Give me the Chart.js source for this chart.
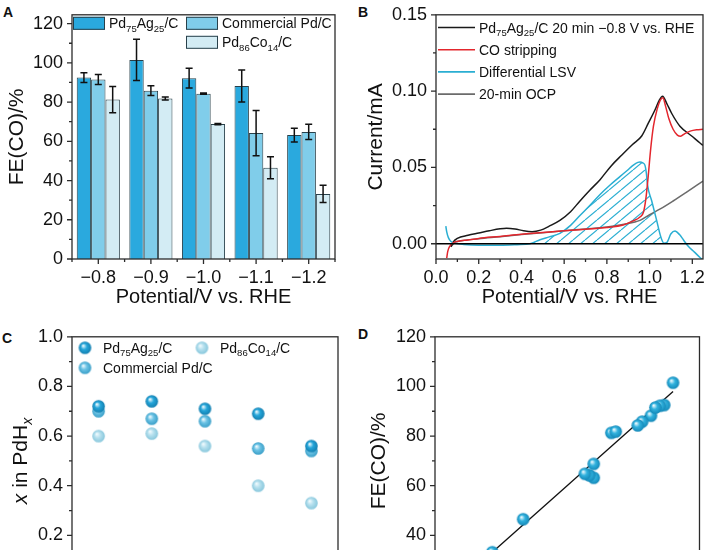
<!DOCTYPE html>
<html>
<head>
<meta charset="utf-8">
<script src="https://cdn.jsdelivr.net/npm/chart.js@4.4.1/dist/chart.umd.min.js"></script>
<style>
  html, body { margin: 0; padding: 0; background: #fff; }
  body { width: 715px; height: 550px; overflow: hidden; position: relative; font-family: "Liberation Sans", Arial, sans-serif; }
  canvas { position: absolute; }
  .tag { position: absolute; font-weight: bold; font-size: 14px; line-height: 1; color: #111; }
</style>
</head>
<body>
<div class="tag" style="left:3px;top:5px">A</div>
<div class="tag" style="left:358px;top:5px">B</div>
<div class="tag" style="left:2px;top:331px">C</div>
<div class="tag" style="left:358px;top:327px">D</div>
<canvas id="chartC" style="left:0;top:322px" width="357" height="316"></canvas>
<canvas id="chartD" style="left:357px;top:322px" width="358" height="316"></canvas>
<canvas id="chartA" style="left:0;top:0" width="357" height="312"></canvas>
<canvas id="chartB" style="left:357px;top:0" width="358" height="312"></canvas>
<script>
const FONT = '"Liberation Sans", Arial, sans-serif';
Chart.defaults.font.family = FONT;
Chart.defaults.color = '#111';

// categories
const potentials = ['−0.8', '−0.9', '−1.0', '−1.1', '−1.2'];
const seriesNames = ['Pd_{75}Ag_{25}/C', 'Commercial Pd/C', 'Pd_{86}Co_{14}/C'];

// A: FE(CO) in %, with error
const fePdAg = [92.5, 101.5, 92.2, 88.2, 63.2];
const feComm = [91.5, 85.8, 84.3, 64.2, 64.8];
const fePdCo = [81.3, 81.8, 68.8, 46.5, 33.2];
const errPdAg = [2.5, 10.5, 5.0, 8.1, 3.5];
const errComm = [2.5, 2.5, 0.3, 11.5, 3.9];
const errPdCo = [6.7, 0.8, 0.3, 5.6, 4.4];

// B: stripping curves (potential, current)
const blackX = [0.07, 0.08, 0.10, 0.15, 0.20, 0.25, 0.30, 0.33, 0.37, 0.41, 0.45, 0.49, 0.53, 0.58, 0.63, 0.674, 0.72, 0.768, 0.82, 0.869, 0.92, 0.963, 0.994, 1.025, 1.045, 1.061, 1.08, 1.103, 1.142, 1.197, 1.236, 1.25];
const blackY = [-0.002, 0.001, 0.0035, 0.0055, 0.007, 0.0085, 0.0098, 0.0102, 0.0097, 0.0085, 0.0079, 0.0089, 0.0115, 0.0153, 0.021, 0.028, 0.035, 0.042, 0.051, 0.058, 0.065, 0.0706, 0.079, 0.0876, 0.094, 0.0966, 0.092, 0.0855, 0.077, 0.0706, 0.066, 0.0645];
const redX = [0.05, 0.055, 0.065, 0.08, 0.10, 0.15, 0.20, 0.30, 0.40, 0.50, 0.60, 0.70, 0.80, 0.88, 0.92, 0.955, 0.972, 0.983, 0.994, 1.005, 1.018, 1.035, 1.05, 1.062, 1.075, 1.09, 1.11, 1.13, 1.145, 1.165, 1.19, 1.22, 1.25];
const redY = [-0.0095, -0.005, -0.0015, 0.0005, 0.0015, 0.0025, 0.0035, 0.0048, 0.0062, 0.0073, 0.0085, 0.0095, 0.0106, 0.0125, 0.0148, 0.0175, 0.021, 0.030, 0.045, 0.062, 0.077, 0.088, 0.094, 0.0957, 0.09, 0.082, 0.075, 0.0712, 0.0705, 0.0722, 0.0738, 0.0747, 0.075];
const cyanX = [0.046, 0.05, 0.058, 0.07, 0.09, 0.13, 0.20, 0.30, 0.38, 0.44, 0.487, 0.53, 0.58, 0.63, 0.674, 0.72, 0.768, 0.815, 0.861, 0.895, 0.924, 0.945, 0.955, 0.968, 0.978, 0.985, 0.99, 1.01, 1.033, 1.052, 1.067, 1.08, 1.10, 1.119, 1.14, 1.158, 1.181, 1.21, 1.236, 1.25];
const cyanY = [0.0115, 0.008, 0.004, 0.0015, 0.0003, -0.0005, -0.001, -0.001, -0.0006, 0.0, 0.0026, 0.0045, 0.0068, 0.012, 0.0185, 0.025, 0.0323, 0.0385, 0.044, 0.048, 0.0515, 0.0533, 0.0536, 0.053, 0.0515, 0.046, 0.0387, 0.028, 0.0153, 0.0047, 0.0004, 0.0008, 0.0065, 0.0083, 0.006, 0.0026, -0.0017, -0.0055, -0.009, -0.0105];
const ocpX = [0.07, 0.09, 0.12, 0.20, 0.30, 0.40, 0.50, 0.60, 0.70, 0.80, 0.88, 0.955, 1.0, 1.05, 1.11, 1.17, 1.25];
const ocpY = [-0.002, 0.001, 0.002, 0.0033, 0.0046, 0.006, 0.0072, 0.0085, 0.0097, 0.011, 0.0128, 0.0153, 0.019, 0.0228, 0.028, 0.0335, 0.041];
const legendB = ['Pd_{75}Ag_{25}/C 20 min −0.8 V vs. RHE', 'CO stripping', 'Differential LSV', '20-min OCP'];

// C: x in PdHx
const xPdAg = [0.72, 0.74, 0.71, 0.69, 0.56];
const xComm = [0.70, 0.67, 0.66, 0.55, 0.54];
const xPdCo = [0.60, 0.61, 0.56, 0.40, 0.33];

// D: linear fit
const fitX = [0.33, 0.74];
const fitY = [33.2, 98.0];

// ticks
const yTicksA = [0, 20, 40, 60, 80, 100, 120];
const yMinorA = [10, 30, 50, 70, 90, 110];
const catMajor = [0, 1, 2, 3, 4];
const catMinor = [-0.5, 0.5, 1.5, 2.5, 3.5, 4.5];
const xTicksB = [0, 0.2, 0.4, 0.6, 0.8, 1.0, 1.2];
const xMinorB = [0.1, 0.3, 0.5, 0.7, 0.9, 1.1];
const yTicksB = [0, 0.05, 0.10, 0.15];
const yMinorB = [0.025, 0.075, 0.125];
const yTicksC = [0, 0.2, 0.4, 0.6, 0.8, 1.0];
const yMinorC = [0.1, 0.3, 0.5, 0.7, 0.9];
const yTicksD = [20, 40, 60, 80, 100, 120];
const yMinorD = [30, 50, 70, 90, 110];
const xTicksD = [0.2, 0.3, 0.4, 0.5, 0.6, 0.7, 0.8];

// text with _{sub} and *italic*
function parseRich(str) {
  const out = [];
  str.split(/(_\{[^}]*\}|\*[^*]*\*)/).forEach(s => {
    if (!s) return;
    if (s.startsWith('_{')) {
      let t = s.slice(2, -1), it = false;
      if (t.startsWith('*')) { t = t.slice(1, -1); it = true; }
      out.push({ t, sub: true, it });
    } else if (s.startsWith('*')) {
      out.push({ t: s.slice(1, -1), sub: false, it: true });
    } else {
      out.push({ t: s, sub: false, it: false });
    }
  });
  return out;
}
function richText(ctx, str, x, y, size, align) {
  const ps = parseRich(str);
  const fontOf = p => (p.it ? 'italic ' : '') + (p.sub ? size * 0.68 : size) + 'px ' + FONT;
  let w = 0;
  ps.forEach(p => { ctx.font = fontOf(p); w += ctx.measureText(p.t).width; });
  let cx = align === 'center' ? x - w / 2 : x;
  ctx.textAlign = 'left';
  ctx.textBaseline = 'alphabetic';
  ps.forEach(p => {
    ctx.font = fontOf(p);
    ctx.fillText(p.t, cx, p.sub ? y + size * 0.24 : y);
    cx += ctx.measureText(p.t).width;
  });
}

function sphere(base, dark, r) {
  const c = document.createElement('canvas');
  const s = Math.ceil(r * 2 + 2);
  c.width = c.height = s;
  const g = c.getContext('2d');
  const m = s / 2;
  const grad = g.createRadialGradient(m - r * 0.3, m - r * 0.35, r * 0.05, m, m, r);
  grad.addColorStop(0, '#f2fbfe');
  grad.addColorStop(0.45, base);
  grad.addColorStop(1, dark);
  g.fillStyle = grad;
  g.beginPath();
  g.arc(m, m, r, 0, Math.PI * 2);
  g.fill();
  return c;
}

function hatch(ctx, color) {
  const c = document.createElement('canvas');
  c.width = 12; c.height = 10;
  const g = c.getContext('2d');
  g.strokeStyle = color;
  g.lineWidth = 1.2;
  for (let k = -1; k <= 1; k++) {
    g.beginPath();
    g.moveTo(k * 12, 10);
    g.lineTo(k * 12 + 12, 0);
    g.stroke();
  }
  return ctx.createPattern(c, 'repeat');
}

// box round the plot, with outward ticks
const framePlugin = {
  id: 'frame',
  afterDatasetsDraw(chart, args, o) {
    const { ctx, chartArea: a, scales } = chart;
    ctx.save();
    if (o.zeroLine) {
      const p = scales.y.getPixelForValue(0);
      ctx.strokeStyle = '#000';
      ctx.lineWidth = 1.6;
      ctx.beginPath(); ctx.moveTo(a.left, p); ctx.lineTo(a.right, p); ctx.stroke();
    }
    ctx.strokeStyle = '#2b2b2b';
    ctx.lineWidth = 1.3;
    ctx.beginPath();
    (o.xMajor || []).forEach(v => { const p = scales.x.getPixelForValue(v); ctx.moveTo(p, a.bottom); ctx.lineTo(p, a.bottom + 5); });
    (o.xMinor || []).forEach(v => { const p = scales.x.getPixelForValue(v); ctx.moveTo(p, a.bottom); ctx.lineTo(p, a.bottom + 3); });
    (o.yMajor || []).forEach(v => { const p = scales.y.getPixelForValue(v); ctx.moveTo(a.left, p); ctx.lineTo(a.left - 5, p); });
    (o.yMinor || []).forEach(v => { const p = scales.y.getPixelForValue(v); ctx.moveTo(a.left, p); ctx.lineTo(a.left - 3, p); });
    ctx.stroke();
    ctx.strokeRect(a.left, a.top, a.right - a.left, a.bottom - a.top);
    ctx.restore();
  }
};

const errorBars = {
  id: 'errorBars',
  afterDatasetsDraw(chart) {
    const { ctx } = chart;
    const ys = chart.scales.y;
    ctx.save();
    ctx.strokeStyle = '#111';
    ctx.lineWidth = 1.5;
    chart.data.datasets.forEach((ds, i) => {
      chart.getDatasetMeta(i).data.forEach((bar, j) => {
        const v = ds.data[j], e = ds.errors[j];
        const t = ys.getPixelForValue(v + e), b = ys.getPixelForValue(v - e);
        ctx.beginPath();
        ctx.moveTo(bar.x, t); ctx.lineTo(bar.x, b);
        ctx.moveTo(bar.x - 3.5, t); ctx.lineTo(bar.x + 3.5, t);
        ctx.moveTo(bar.x - 3.5, b); ctx.lineTo(bar.x + 3.5, b);
        ctx.stroke();
      });
    });
    ctx.restore();
  }
};

const legendA = {
  id: 'legendA',
  afterDraw(chart) {
    const { ctx, chartArea: a } = chart;
    const spots = [[1, 2], [114, 2], [114, 21]];
    ctx.save();
    chart.data.datasets.forEach((ds, i) => {
      const x = a.left + spots[i][0], y = a.top + spots[i][1];
      ctx.fillStyle = ds.backgroundColor;
      ctx.fillRect(x, y, 32, 13);
      ctx.strokeStyle = '#28404a';
      ctx.lineWidth = 1;
      ctx.strokeRect(x + 0.5, y + 0.5, 31, 12);
      ctx.fillStyle = '#111';
      richText(ctx, seriesNames[i], x + 36, y + 6.5 + 5, 14);
    });
    ctx.restore();
  }
};

const legendBPlugin = {
  id: 'legendB',
  afterDraw(chart) {
    const { ctx, chartArea: a } = chart;
    const rows = [12.7, 34.9, 57.1, 79.3];
    const sets = [chart.data.datasets[0], chart.data.datasets[1], chart.data.datasets[2], chart.data.datasets[3]];
    ctx.save();
    sets.forEach((ds, i) => {
      const y = a.top + rows[i];
      ctx.strokeStyle = ds.borderColor;
      ctx.lineWidth = 1.6;
      ctx.beginPath(); ctx.moveTo(a.left + 2, y); ctx.lineTo(a.left + 39, y); ctx.stroke();
      ctx.fillStyle = '#111';
      richText(ctx, legendB[i], a.left + 43, y + 5, 14);
    });
    ctx.restore();
  }
};

const legendC = {
  id: 'legendC',
  afterDraw(chart) {
    const { ctx, chartArea: a } = chart;
    const spots = [[13, 11], [13, 31], [130, 11]];
    ctx.save();
    chart.data.datasets.forEach((ds, i) => {
      const x = a.left + spots[i][0], y = a.top + spots[i][1];
      const img = ds.pointStyle;
      ctx.drawImage(img, x - img.width / 2, y - img.height / 2);
      ctx.fillStyle = '#111';
      richText(ctx, ds.label, x + 18, y + 5, 14);
    });
    // y title: x in PdHx
    ctx.translate(20, (a.top + a.bottom) / 2);
    ctx.rotate(-Math.PI / 2);
    richText(ctx, '*x* in PdH_{*x*}', 0, 7, 21, 'center');
    ctx.restore();
  }
};

const tickFont = { size: 18 };
const titleFont = { size: 20 };
function xAxis(extra) {
  return Object.assign({
    grid: { display: false, tickLength: 5 },
    border: { display: false },
    ticks: { font: tickFont, padding: 3, maxRotation: 0, autoSkip: false },
    title: { display: true, text: 'Potential/V vs. RHE', font: titleFont, padding: { top: 0, bottom: 3 } },
    afterFit: s => { s.height = 53; }
  }, extra);
}
function yAxis(width, extra) {
  return Object.assign({
    grid: { display: false, tickLength: 5 },
    border: { display: false },
    ticks: { font: tickFont, padding: 4 },
    afterFit: s => { s.width = width; }
  }, extra);
}
const quiet = { legend: { display: false }, tooltip: { enabled: false } };

// A
new Chart(document.getElementById('chartA'), {
  type: 'bar',
  data: {
    labels: potentials,
    datasets: [
      { data: fePdAg, errors: errPdAg, backgroundColor: '#2aa9de' },
      { data: feComm, errors: errComm, backgroundColor: '#80cdea' },
      { data: fePdCo, errors: errPdCo, backgroundColor: '#d3ecf4' }
    ].map(d => Object.assign(d, { borderColor: '#28404a', borderWidth: 1, categoryPercentage: 0.82, barPercentage: 1.0 }))
  },
  options: {
    responsive: false, animation: false,
    layout: { padding: { left: 0, right: 22, top: 10, bottom: 0 } },
    scales: {
      x: xAxis({}),
      y: yAxis(72, {
        min: 0, max: 124.5,
        afterBuildTicks: s => { s.ticks = yTicksA.map(v => ({ value: v })); },
        title: { display: true, text: 'FE(CO)/%', font: { size: 21 }, padding: { top: 5, bottom: 0 } }
      })
    },
    plugins: Object.assign({ frame: { xMajor: catMajor, xMinor: catMinor, yMajor: yTicksA, yMinor: yMinorA } }, quiet)
  },
  plugins: [errorBars, framePlugin, legendA]
});

// B
const ctxB = document.getElementById('chartB').getContext('2d');
const pairs = (xs, ys) => xs.map((x, i) => ({ x, y: ys[i] }));
const hatchPts = pairs(cyanX, cyanY).filter(p => p.x >= 0.44 && p.x <= 1.067);
const lineOpts = { showLine: true, pointRadius: 0, borderWidth: 1.5, cubicInterpolationMode: 'monotone', fill: false };
new Chart(ctxB, {
  type: 'scatter',
  data: {
    datasets: [
      Object.assign({ data: pairs(blackX, blackY), borderColor: '#1a1a1a', order: 3 }, lineOpts),
      Object.assign({ data: pairs(redX, redY), borderColor: '#e3262d', order: 1 }, lineOpts),
      Object.assign({ data: pairs(cyanX, cyanY), borderColor: '#2aaed2', order: 2 }, lineOpts),
      Object.assign({ data: pairs(ocpX, ocpY), borderColor: '#6b6b6b', order: 4 }, lineOpts),
      Object.assign({}, lineOpts, { data: hatchPts, borderWidth: 0, borderColor: 'rgba(0,0,0,0)', backgroundColor: hatch(ctxB, '#2aaed2'), fill: 'origin', order: 9 })
    ]
  },
  options: {
    responsive: false, animation: false,
    layout: { padding: { left: 0, right: 12, top: 8, bottom: 0 } },
    scales: {
      x: xAxis({
        type: 'linear', min: 0, max: 1.25,
        afterBuildTicks: s => { s.ticks = xTicksB.map(v => ({ value: v })); },
        ticks: { font: tickFont, padding: 3, maxRotation: 0, autoSkip: false, callback: v => v.toFixed(1) }
      }),
      y: yAxis(79, {
        min: -0.01, max: 0.15,
        afterBuildTicks: s => { s.ticks = yTicksB.map(v => ({ value: v })); },
        ticks: { font: tickFont, padding: 4, callback: v => v.toFixed(2) },
        title: { display: true, text: 'Current/mA', font: { size: 21 }, padding: { top: 7, bottom: 0 } }
      })
    },
    plugins: Object.assign({ frame: { zeroLine: true, xMajor: xTicksB, xMinor: xMinorB, yMajor: yTicksB, yMinor: yMinorB } }, quiet)
  },
  plugins: [framePlugin, legendBPlugin]
});

// C
const ballPdAg = sphere('#25a6da', '#137fb0', 6.3);
const ballComm = sphere('#6cc3e5', '#3a9fc8', 6.3);
const ballPdCo = sphere('#b5e0ee', '#88c7dc', 6.3);
const ballD = sphere('#31b2de', '#1488b8', 6.3);
new Chart(document.getElementById('chartC'), {
  type: 'line',
  data: {
    labels: potentials,
    datasets: [
      { label: seriesNames[0], data: xPdAg, pointStyle: ballPdAg },
      { label: seriesNames[1], data: xComm, pointStyle: ballComm },
      { label: seriesNames[2], data: xPdCo, pointStyle: ballPdCo }
    ].map(d => Object.assign(d, { showLine: false, pointRadius: 6 }))
  },
  options: {
    responsive: false, animation: false,
    layout: { padding: { left: 0, right: 19, top: 12, bottom: 0 } },
    scales: {
      x: xAxis({ offset: true }),
      y: yAxis(72, {
        min: 0, max: 1.0,
        afterBuildTicks: s => { s.ticks = yTicksC.map(v => ({ value: v })); },
        ticks: { font: tickFont, padding: 4, callback: v => v.toFixed(1) }
      })
    },
    plugins: Object.assign({ frame: { xMajor: catMajor, xMinor: catMinor, yMajor: yTicksC, yMinor: yMinorC } }, quiet)
  },
  plugins: [framePlugin, legendC]
});

// D: FE(CO) against x, from panels A and C
const dPoints = [];
[[xPdAg, fePdAg], [xComm, feComm], [xPdCo, fePdCo]].forEach(([xs, fs]) => xs.forEach((x, i) => dPoints.push({ x, y: fs[i] })));
new Chart(document.getElementById('chartD'), {
  type: 'scatter',
  data: {
    datasets: [
      { data: dPoints, pointStyle: ballD, pointRadius: 6, order: 1 },
      { data: pairs(fitX, fitY), showLine: true, pointRadius: 0, borderColor: '#111', borderWidth: 1.3, order: 2 }
    ]
  },
  options: {
    responsive: false, animation: false,
    layout: { padding: { left: 0, right: 13, top: 13, bottom: 0 } },
    scales: {
      x: xAxis({
        type: 'linear', min: 0.2, max: 0.8,
        afterBuildTicks: s => { s.ticks = xTicksD.map(v => ({ value: v })); },
        ticks: { font: tickFont, padding: 3, maxRotation: 0, callback: v => v.toFixed(1) },
        title: { display: true, text: 'x in PdHx', font: titleFont, padding: { top: 0, bottom: 3 } }
      }),
      y: yAxis(78, {
        min: 20, max: 120,
        afterBuildTicks: s => { s.ticks = yTicksD.map(v => ({ value: v })); },
        title: { display: true, text: 'FE(CO)/%', font: { size: 21 }, padding: { top: 10, bottom: 0 } }
      })
    },
    plugins: Object.assign({ frame: { xMajor: xTicksD, yMajor: yTicksD, yMinor: yMinorD } }, quiet)
  },
  plugins: [framePlugin]
});
</script>
</body>
</html>
